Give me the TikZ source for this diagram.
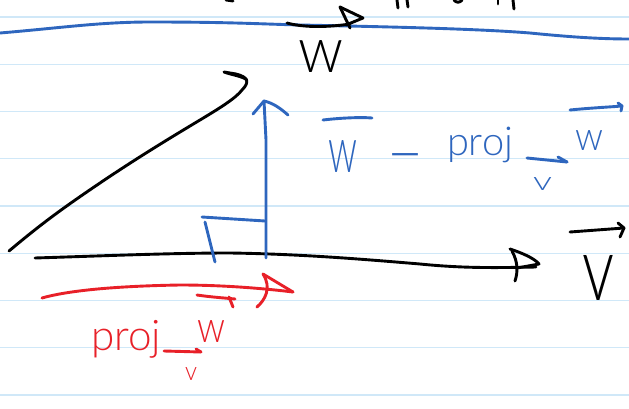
\documentclass[tikz,border=0pt]{standalone}
\usepackage{fontspec}
\IfFontExistsTF{Lato Light}{\setmainfont{Lato Light}}{%
  \IfFontExistsTF{Open Sans Light}{\setmainfont{Open Sans Light}}{\setmainfont{Liberation Sans}}}
\definecolor{penblue}{RGB}{46,102,190}
\definecolor{penred}{RGB}{232,32,40}
\definecolor{rulecol}{RGB}{208,232,248}
\begin{document}
\begin{tikzpicture}[x=1pt,y=-1pt,
  pen/.style={line width=2.9pt,line cap=round,line join=round},
  kpen/.style={pen,draw=black},
  bpen/.style={pen,draw=penblue},
  rpen/.style={pen,draw=penred},
  rule/.style={draw=rulecol,line width=1.3pt},
  lbl/.style={inner sep=0pt,outer sep=0pt,anchor=south west},
  plbl/.style={inner sep=0pt,outer sep=0pt,anchor=base west}]
\useasboundingbox (0,0) rectangle (629,409);
\fill[white] (0,0) rectangle (629,409);
% ruled paper
\foreach \yy in {17,64.25,111.5,158.75,206,253.25,300.5,347.75,395}
  \draw[rule] (0,\yy) -- (629,\yy);
% cut-off writing at the top edge
\draw[kpen] (226,0) -- (233,1);
\draw[kpen] (397,0) -- (398,8);
\draw[kpen] (407,0) -- (408,7);
\draw[kpen] (454,0) .. controls (456,3) and (460,3) .. (462,0);
\draw[kpen] (498,0) -- (498,4);
\draw[kpen] (513,0) -- (514,9);
% blue separator line
\draw[bpen] (0,33) .. controls (60,28) and (100,22) .. (150,22)
  .. controls (230,22) and (260,24) .. (300,25)
  .. controls (400,27) and (480,29) .. (530,33)
  .. controls (570,37) and (600,39) .. (629,39);
% label w (black) with its arrow
\draw[kpen] (287,23) .. controls (305,28) and (330,27) .. (350,24);
\draw[kpen] (340,7) -- (363,18) -- (346,25);
\draw[kpen] (340,7) -- (350,28);
\node[lbl,text=black] (wlab) at (298,73) {\resizebox{45pt}{32pt}{w}};
% vector w (black slanted line with hook)
\draw[kpen] (9,251) .. controls (40,225) and (60,210) .. (100,183)
  .. controls (140,156) and (175,135) .. (200,120)
  .. controls (220,108) and (236,98) .. (242,90)
  .. controls (250,82) and (248,77) .. (236,74) -- (224,72)
  .. controls (232,75) and (242,76) .. (247,80);
% vector v (black horizontal arrow)
\draw[kpen] (35,258) .. controls (100,256) and (170,253) .. (230,253)
  .. controls (300,254) and (360,259) .. (420,264)
  .. controls (460,268) and (490,268) .. (536,267);
\draw[kpen] (510,249) .. controls (522,253) and (534,258) .. (539,264) -- (517,268);
\draw[kpen] (512,251) .. controls (518,262) and (518,272) .. (515,281);
% label v (black)
\draw[kpen] (570,232) -- (624,228);
\draw[kpen] (618,223) -- (624,228) -- (620,237);
\node[lbl,text=black] (vlab) at (582,300) {\resizebox{32pt}{45pt}{v}};
% blue perpendicular arrow
\draw[bpen] (266,258) -- (266,140) -- (264,101);
\draw[bpen] (253,114) -- (264,101) .. controls (273,103) and (280,108) .. (288,115);
% right-angle mark
\draw[bpen] (202,217) -- (265,221);
\draw[bpen] (205,222) -- (215,262);
% blue label  w - proj_v w
\draw[bpen] (323,120) .. controls (340,118) and (360,117) .. (372,118);
\node[lbl,text=penblue] (bw1) at (328,172) {\resizebox{29pt}{32pt}{w}};
\node[inner sep=0pt,outer sep=0pt,anchor=north west,text=penblue] (bminus) at (387,153.5) {\resizebox{36pt}{!}{−}};
\node[plbl,text=penblue] (bproj) at (447,156) {\resizebox{66pt}{!}{proj}};
\draw[bpen] (527,158) -- (567,162);
\draw[bpen] (558,157) -- (567,162);
\node[lbl,text=penblue] (bv) at (533,190) {\resizebox{19pt}{13pt}{v}};
\draw[bpen] (570,110) .. controls (590,108) and (610,107) .. (622,106);
\draw[bpen] (618,103) -- (622,106) -- (621,111);
\node[lbl,text=penblue] (bw2) at (575,150) {\resizebox{28pt}{20pt}{w}};
% red projection arrow
\draw[rpen] (42,298) .. controls (70,290) and (120,286) .. (180,285)
  .. controls (220,285) and (260,288) .. (293,292);
\draw[rpen] (263,274) -- (293,292);
\draw[rpen] (263,274) .. controls (272,288) and (265,300) .. (257,307);
% red label proj_v w
\node[plbl,text=penred] (rproj) at (91,350) {\resizebox{70pt}{!}{proj}};
\draw[rpen] (164,351) -- (201,352);
\draw[rpen] (196,349) -- (201,352);
\node[lbl,text=penred] (rv) at (185,380) {\resizebox{12pt}{13pt}{v}};
\draw[rpen] (197,295) .. controls (210,297) and (225,298) .. (235,299);
\draw[rpen] (229,297) -- (233,307);
\node[lbl,text=penred] (rw) at (197,342) {\resizebox{28pt}{22pt}{w}};
\end{tikzpicture}
\end{document}
